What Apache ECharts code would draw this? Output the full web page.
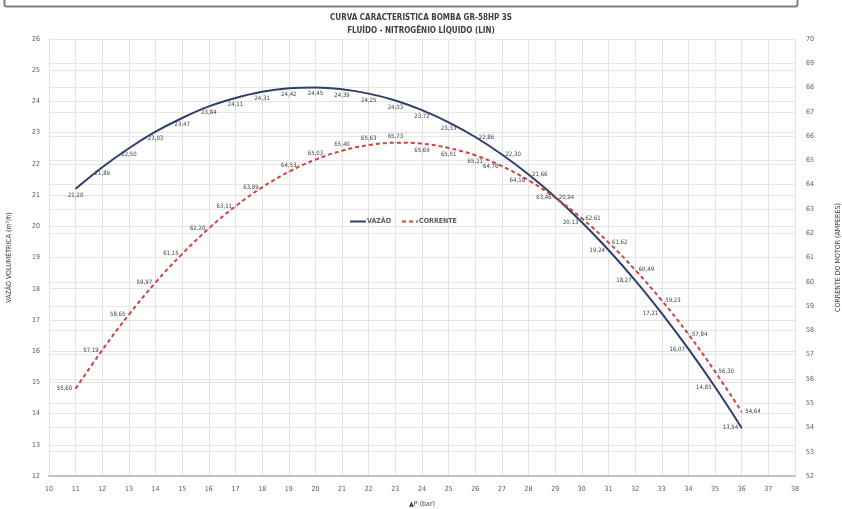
<!DOCTYPE html>
<html>
<head>
<meta charset="utf-8">
<script src="https://cdn.jsdelivr.net/npm/echarts@6/dist/echarts.min.js"></script>
<style>
html,body{margin:0;padding:0;background:#fff;}
#c{width:842px;height:509px;}
</style>
</head>
<body>
<div id="c"></div>
<script>
// ---- data ----
var pressao = [11,12,13,14,15,16,17,18,19,20,21,22,23,24,25,26,27,28,29,30,31,32,33,34,35,36];
var vazao = [21.20,21.89,22.50,23.03,23.47,23.84,24.11,24.31,24.42,24.45,24.39,24.25,24.03,23.72,23.33,22.86,22.30,21.66,20.94,20.13,19.24,18.27,17.21,16.07,14.85,13.54];
var corrente = [55.60,57.19,58.65,59.97,61.15,62.20,63.11,63.89,64.53,65.03,65.40,65.63,65.73,65.69,65.51,65.21,64.76,64.18,63.46,62.61,61.62,60.49,59.23,57.84,56.30,54.64];
var titulo1 = 'CURVA CARACTERISTICA BOMBA GR-58HP 3S';
var titulo2 = 'FLUÍDO - NITROGÊNIO LÍQUIDO (LIN)';
var nomeX = '▲P (bar)';
var nomeY1 = 'VAZÃO VOLUMÉTRICA (m³/h)';
var nomeY2 = 'CORRENTE DO MOTOR (AMPERES)';
var nomesSeries = ['VAZÃO', 'CORRENTE'];

// ---- formatting ----
var FONT = "'Liberation Sans Narrow','DejaVu Sans Condensed','Liberation Sans',sans-serif";
function fmt(v){ return v.toFixed(2).replace('.', ','); }
function posVazao(x){ if (x <= 25) return 'bottom'; if (x <= 29) return 'right'; return 'left'; }
function posCorrente(x){ if (x <= 18) return 'left'; if (x <= 23) return 'top'; if (x <= 26) return 'bottom'; if (x <= 29) return 'left'; return 'right'; }
function build(ys, posFn){
  return pressao.map(function(x, i){
    return { value: [x, ys[i]], label: { position: posFn(x) } };
  });
}

var chart = echarts.init(document.getElementById('c'), null, {renderer: 'canvas'});
var labelStyle = { show: true, fontSize: 6, color: '#404040', fontFamily: FONT, distance: 3,
  formatter: function(p){ return fmt(p.value[1]); } };

chart.setOption({
  animation: false,
  backgroundColor: '#ffffff',
  graphic: [{
    type: 'rect', left: 2, top: -10,
    shape: { width: 793, height: 14, r: 2 },
    style: { fill: 'none', stroke: '#7f7f7f', lineWidth: 2 }
  }],
  title: [
    { text: titulo1, left: 'center', top: 9,
      textStyle: { fontSize: 8, fontWeight: 'bold', color: '#404040', fontFamily: FONT } },
    { text: titulo2, left: 'center', top: 22,
      textStyle: { fontSize: 8, fontWeight: 'bold', color: '#404040', fontFamily: FONT } }
  ],
  legend: {
    data: nomesSeries, left: 344, top: 213, itemWidth: 16, itemHeight: 8, itemGap: 10,
    itemStyle: { opacity: 0 },
    textStyle: { fontSize: 7, fontWeight: 'bold', color: '#595959', fontFamily: FONT, padding: [0,0,0,-4] }
  },
  grid: { left: 49, right: 47, top: 39, bottom: 33, outerBoundsMode: 'none', containLabel: false },
  xAxis: {
    type: 'value', min: 10, max: 38, interval: 1,
    name: nomeX, nameLocation: 'middle', nameGap: 25,
    nameTextStyle: { fontSize: 7, color: '#404040', fontFamily: FONT },
    axisLine: { show: true, lineStyle: { color: '#bfbfbf', width: 2 } },
    axisTick: { show: false },
    axisLabel: { fontSize: 7, color: '#595959', fontFamily: FONT, margin: 10 },
    splitLine: { show: true, lineStyle: { color: '#e3e3e3', width: 1 } }
  },
  yAxis: [{
    type: 'value', min: 12, max: 26, interval: 1, position: 'left',
    name: nomeY1, nameLocation: 'middle', nameGap: 36, nameRotate: 90,
    nameTextStyle: { fontSize: 7, color: '#404040', fontFamily: FONT },
    axisLine: { show: false }, axisTick: { show: false },
    axisLabel: { fontSize: 7, color: '#595959', fontFamily: FONT, margin: 9 },
    splitLine: { show: true, lineStyle: { color: '#e3e3e3', width: 1 } }
  }, {
    type: 'value', min: 52, max: 70, interval: 1, position: 'right',
    name: nomeY2, nameLocation: 'middle', nameGap: 40, nameRotate: 90,
    nameTextStyle: { fontSize: 7, color: '#404040', fontFamily: FONT },
    axisLine: { show: false }, axisTick: { show: false },
    axisLabel: { fontSize: 7, color: '#595959', fontFamily: FONT, margin: 11 },
    splitLine: { show: true, lineStyle: { color: '#e8e8e8', width: 1 } }
  }],
  series: [{
    name: nomesSeries[0], type: 'line', yAxisIndex: 0, smooth: 0.4,
    symbol: 'circle', symbolSize: 1, z: 3,
    itemStyle: { color: '#2f3f6b' },
    lineStyle: { color: '#2f3f6b', width: 2 },
    label: labelStyle,
    data: build(vazao, posVazao)
  }, {
    name: nomesSeries[1], type: 'line', yAxisIndex: 1, smooth: 0.4,
    symbol: 'circle', symbolSize: 1, z: 4,
    itemStyle: { color: '#c9453f' },
    lineStyle: { color: '#c9453f', width: 2, type: [4, 3] },
    label: labelStyle,
    data: build(corrente, posCorrente)
  }]
});
</script>
</body>
</html>
